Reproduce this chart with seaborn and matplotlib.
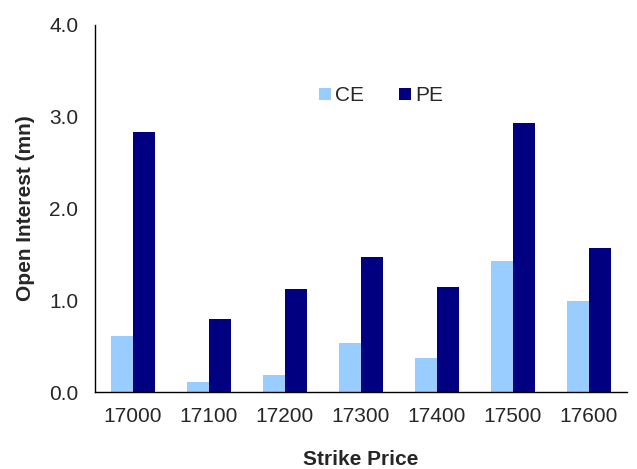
import pandas as pd
import seaborn as sns
import matplotlib.pyplot as plt

strikes = ["17000", "17100", "17200", "17300", "17400", "17500", "17600"]
ce = [0.61, 0.11, 0.19, 0.53, 0.37, 1.43, 0.99]
pe = [2.83, 0.80, 1.12, 1.47, 1.15, 2.93, 1.57]

df = pd.DataFrame({
    "Strike": strikes * 2,
    "OI": ce + pe,
    "Type": ["CE"] * len(ce) + ["PE"] * len(pe),
})

sns.set_style("white")
plt.rcParams['font.family'] = ['Liberation Sans', 'DejaVu Sans']

fig = plt.figure(figsize=(6.37, 4.69), dpi=100)
ax = fig.add_axes([0.149, 0.164, 0.835, 0.783])
sns.barplot(data=df, x="Strike", y="OI", hue="Type",
            palette={"CE": "#99ccff", "PE": "#000080"},
            width=0.58, saturation=1, linewidth=0, ax=ax)

ax.set_ylim(0, 4.0)
ax.set_xlim(-0.5, 6.5)
ax.set_yticks([0, 1, 2, 3, 4])
ax.set_yticklabels(["0.0", "1.0", "2.0", "3.0", "4.0"])
ax.tick_params(axis='x', labelsize=15, length=0, pad=11)
ax.tick_params(axis='y', labelsize=15, length=0, pad=12)
ax.set_xlabel("Strike Price", fontsize=15, fontweight="bold", labelpad=17)
ax.set_ylabel("Open Interest (mn)", fontsize=15, fontweight="bold", labelpad=10)

sns.despine(ax=ax)
for s in ["left", "bottom"]:
    ax.spines[s].set_color("black")
    ax.spines[s].set_linewidth(1)

ax.legend(loc="center", bbox_to_anchor=(0.538, 0.807), ncol=2, frameon=False,
          fontsize=15, handlelength=0.55, handleheight=0.55, columnspacing=1.7,
          handletextpad=0.2)

fig.savefig("out.png", dpi=100)
